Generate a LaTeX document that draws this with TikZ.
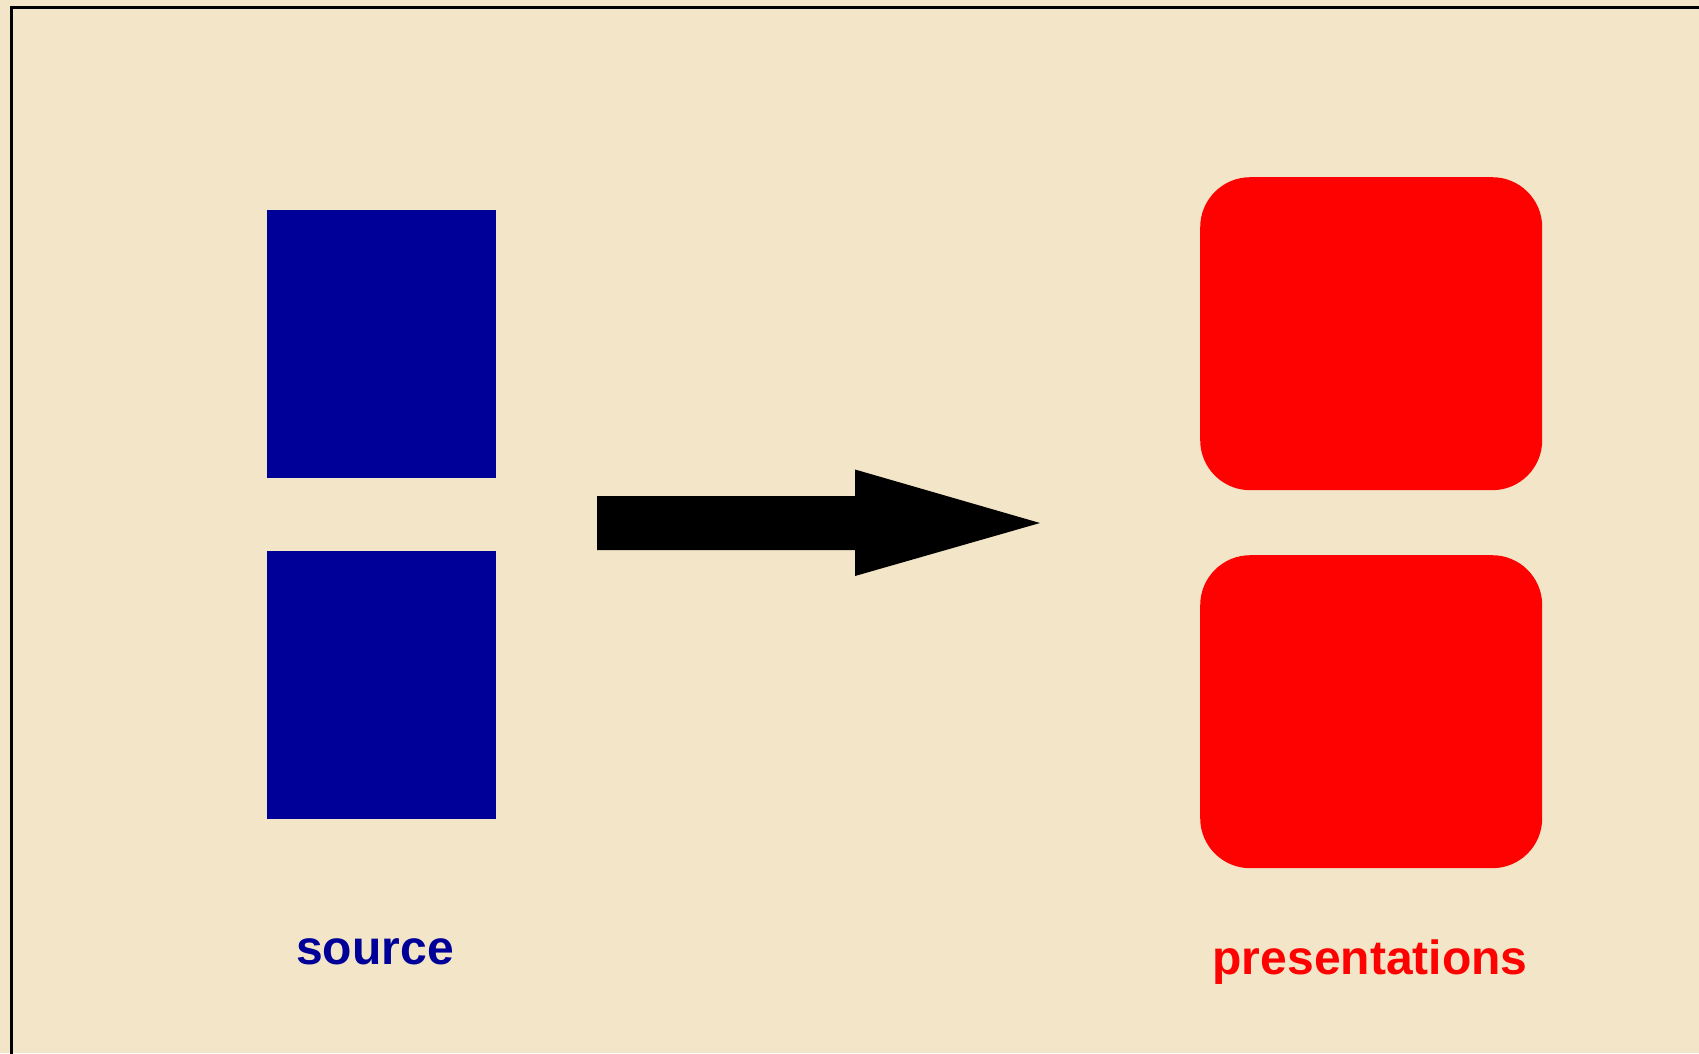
\documentclass[tikz,border=0pt]{standalone}
\usepackage{fontspec}
\setmainfont{Liberation Sans}
\definecolor{paper}{RGB}{243,230,200}
\definecolor{srcblue}{RGB}{0,0,153}
\definecolor{presred}{RGB}{253,2,0}
\tikzset{
  srcbox/.style={fill=srcblue, draw=none, rectangle, inner sep=0pt, anchor=north west,
    minimum width=229pt, minimum height=268pt},
  presbox/.style={fill=presred, draw=none, rectangle, rounded corners=50pt, inner sep=0pt,
    anchor=north west, minimum width=342pt, minimum height=313pt},
  caption/.style={font=\fontsize{48}{52}\selectfont\bfseries, inner sep=0pt, anchor=base},
  bigarrow/.style={fill=black, draw=none}
}
\begin{document}
\begin{tikzpicture}[x=1pt,y=-1pt]
  \useasboundingbox (0,0) rectangle (1699,1053);
  \clip (0,0) rectangle (1699,1053);
  \fill[paper] (0,0) rectangle (1699,1053);
  % frame, running off the right and bottom edges
  \draw[line width=3pt] (11.5,1070) |- (1720,7.5);

  % source blocks
  \node[srcbox] (src1) at (267,210) {};
  \node[srcbox] (src2) at (267,551) {};
  \node[caption, text=srcblue] (srclabel) at (375,964) {source};

  % presentation blocks
  \node[presbox] (pres1) at (1200,177) {};
  \node[presbox] (pres2) at (1200,555) {};
  \node[caption, text=presred] (preslabel) at (1370,974) {presentations};

  % block arrow
  \coordinate (tail) at (597,523);
  \coordinate (tip) at (1040,523);
  \fill[bigarrow] (tail) ++(0,-27) -- ++(258,0) -- ++(0,-26.5) -- (tip)
    -- (855,576) -- ++(0,-26) -- (597,550) -- cycle;
\end{tikzpicture}
\end{document}
